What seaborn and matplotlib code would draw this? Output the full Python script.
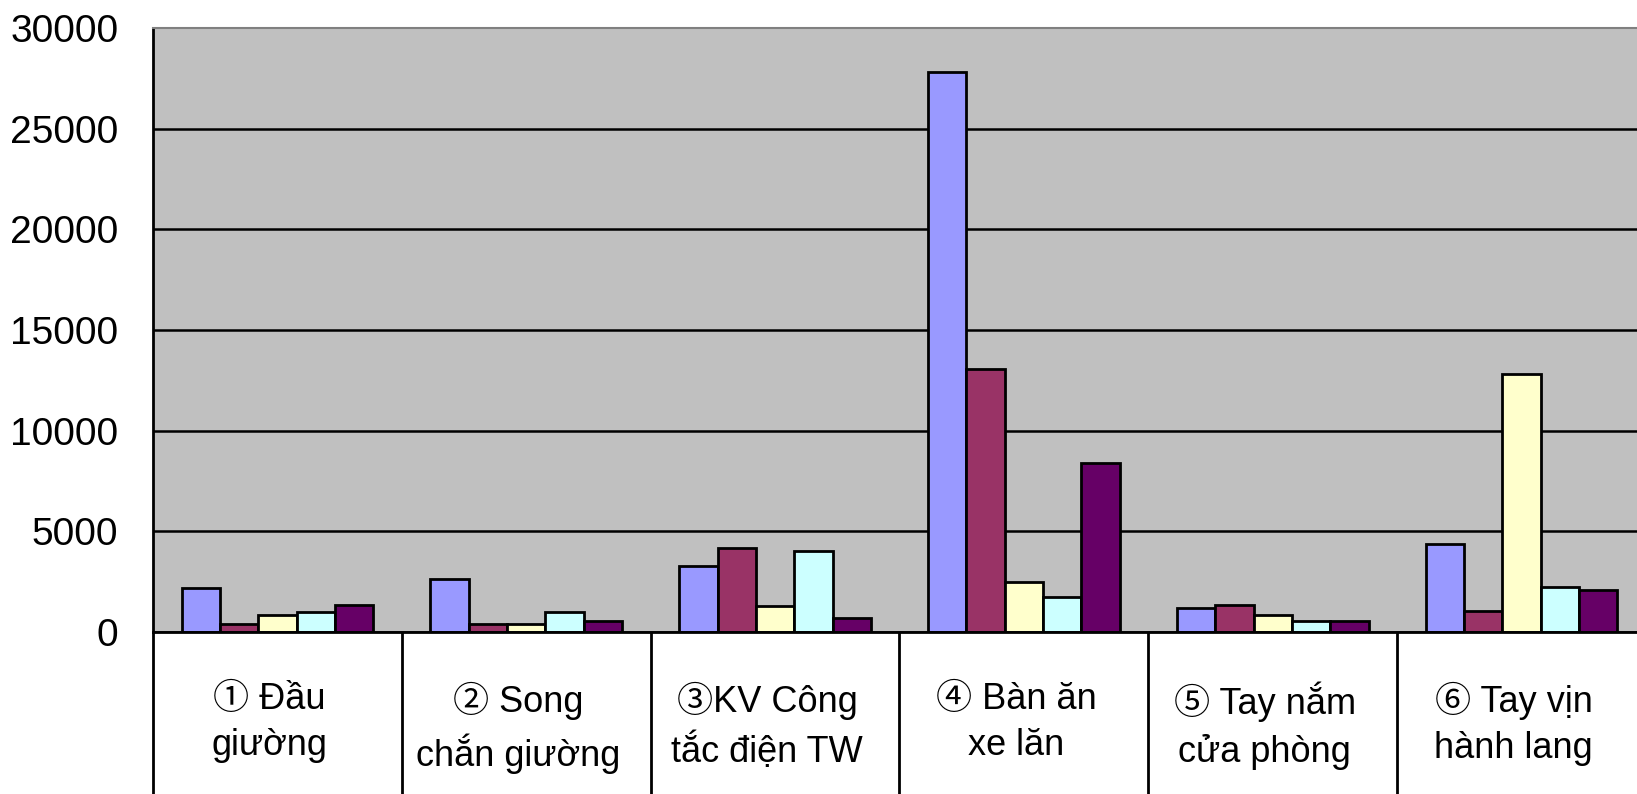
import numpy as np
import pandas as pd
import seaborn as sns
import matplotlib.pyplot as plt
import matplotlib.transforms as mtransforms

categories = ["① Đầu\ngiường", "② Song\nchắn giường", "③KV Công\ntắc điện TW",
              "④ Bàn ăn\nxe lăn", "⑤ Tay nắm\ncửa phòng", "⑥ Tay vịn\nhành lang"]
series_names = ["S1", "S2", "S3", "S4", "S5"]
s1 = [2200, 2650, 3270, 27800, 1170, 4350]
s2 = [400, 380, 4180, 13080, 1330, 1020]
s3 = [840, 400, 1310, 2500, 850, 12820]
s4 = [1010, 1000, 4000, 1760, 550, 2220]
s5 = [1320, 530, 690, 8400, 550, 2090]
yticks = [0, 5000, 10000, 15000, 20000, 25000, 30000]
colors = ["#9999FF", "#993366", "#FFFFCC", "#CCFFFF", "#660066"]

# long format for seaborn
rows = []
for name, vals in zip(series_names, [s1, s2, s3, s4, s5]):
    for cat, v in zip(categories, vals):
        rows.append({"cat": cat, "val": v, "series": name})
df = pd.DataFrame(rows)

sns.set_style("white")
plt.rcParams["font.family"] = ["Liberation Sans", "Noto Sans CJK JP", "DejaVu Sans"]
plt.rcParams["text.color"] = "black"

fig = plt.figure(figsize=(16.37, 7.94), dpi=100)
ax = fig.add_axes([153 / 1637, 162 / 794, 1493 / 1637, 604 / 794])
ax.set_facecolor("#C0C0C0")

sns.barplot(data=df, x="cat", y="val", hue="series", order=categories,
            hue_order=series_names, palette=colors, saturation=1,
            width=0.77, gap=0, edgecolor="black", linewidth=2.0,
            legend=False, ax=ax)

ax.set_xlim(-0.5, len(categories) - 0.5)
ax.set_ylim(0, 30000)
ax.set_yticks(yticks)
ax.set_yticklabels([str(t) for t in yticks])
ax.set_xlabel("")
ax.set_ylabel("")

ax.set_axisbelow(True)
ax.yaxis.grid(True, color="black", linewidth=1.8)
ax.yaxis.get_gridlines()[-1].set_visible(False)

ax.spines["left"].set_color("black")
ax.spines["left"].set_linewidth(2.0)
ax.spines["bottom"].set_color("black")
ax.spines["bottom"].set_linewidth(2.0)
ax.spines["top"].set_color("#808080")
ax.spines["top"].set_linewidth(1.5)
ax.spines["right"].set_visible(False)

ax.tick_params(axis="y", length=0, pad=25, labelsize=28, labelcolor="black")
ax.tick_params(axis="x", length=0, pad=36, labelsize=26, labelcolor="black")
# labels sit a little left of the category centre, like Excel does
shift = mtransforms.ScaledTranslation(-8 / 100, 0, fig.dpi_scale_trans)
for lab in ax.get_xticklabels():
    lab.set_linespacing(1.42)
    lab.set_multialignment("center")
    lab.set_transform(lab.get_transform() + shift)

# table-like dividers under the axis
ax.vlines(np.arange(len(categories) + 1) - 0.5, -0.5, 0,
          transform=ax.get_xaxis_transform(), clip_on=False,
          color="black", linewidth=2.0)

fig.savefig("out.png", dpi=100)
